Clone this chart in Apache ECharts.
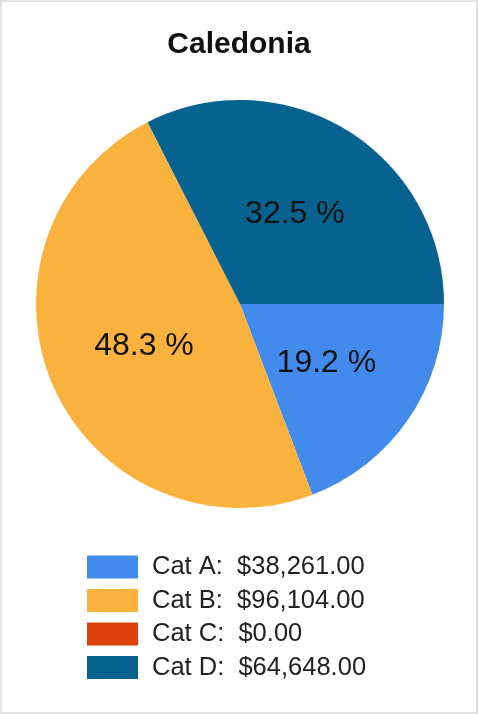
<!DOCTYPE html>
<html>
<head>
<meta charset="utf-8">
<script src="https://cdn.jsdelivr.net/npm/echarts@6/dist/echarts.min.js"></script>
<style>
  html, body { margin: 0; padding: 0; background: #fff; }
  #chart { width: 478px; height: 714px; box-sizing: border-box; border: 2px solid #e2e2e2; }
</style>
</head>
<body>
<div id="chart"></div>
<script>
const title = 'Caledonia';
const categories = ['Cat A', 'Cat B', 'Cat C', 'Cat D'];
const values = [38261, 96104, 0, 64648];
const colors = ['#428aec', '#f9b23e', '#dd400a', '#07628f'];

const total = values.reduce((a, b) => a + b, 0);
const fmtMoney = v => '$' + v.toLocaleString('en-US', { minimumFractionDigits: 2, maximumFractionDigits: 2 });
const valueByName = {};
categories.forEach((c, i) => { valueByName[c] = values[i]; });

const chart = echarts.init(document.getElementById('chart'), null, { renderer: 'canvas' });
chart.setOption({
  animation: false,
  color: colors,
  title: {
    text: title,
    left: 'center',
    top: 23,
    textStyle: { fontFamily: 'Liberation Sans, Arial, sans-serif', fontSize: 30, fontWeight: 'bold', color: '#111' }
  },
  legend: {
    orient: 'vertical',
    left: 80,
    top: 547,
    itemWidth: 51,
    itemHeight: 23,
    itemGap: 7.5,
    icon: 'rect',
    selectedMode: false,
    data: categories,
    formatter: name => name + ':  ' + fmtMoney(valueByName[name]),
    textStyle: {
      fontFamily: 'Liberation Sans, Arial, sans-serif',
      fontSize: 25.5,
      color: '#222',
      lineHeight: 23,
      padding: [0, 0, 0, 9]
    }
  },
  series: [{
    type: 'pie',
    center: [238, 302],
    radius: 204,
    startAngle: 0,
    clockwise: true,
    avoidLabelOverlap: false,
    itemStyle: { borderWidth: 0 },
    label: {
      show: true,
      position: 'inside',
      fontFamily: 'Liberation Sans, Arial, sans-serif',
      fontSize: 32,
      color: '#111',
      formatter: p => p.value === 0 ? '' : (p.value / total * 100).toFixed(1) + ' %'
    },
    labelLine: { show: false },
    emphasis: { disabled: true },
    data: categories.map((c, i) => ({ name: c, value: values[i] }))
  }]
});
</script>
</body>
</html>
